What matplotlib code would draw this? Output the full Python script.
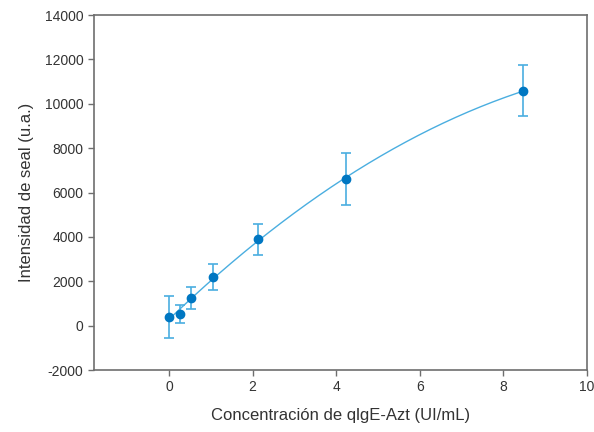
import numpy as np
import matplotlib.pyplot as plt

plt.rcParams['font.family'] = ['Liberation Sans', 'DejaVu Sans']
plt.rcParams['axes.unicode_minus'] = False

# concentración de qIgE-Azt (UI/mL) y señal media con su desviación
conc = [0.0, 0.265, 0.53, 1.06, 2.12, 4.24, 8.48]
signal = [400, 510, 1260, 2200, 3900, 6610, 10590]
sd = [950, 400, 490, 580, 700, 1160, 1140]

x_ticks = [0, 2, 4, 6, 8, 10]
y_ticks = [-2000, 0, 2000, 4000, 6000, 8000, 10000, 12000, 14000]

# ajuste cuadrático para la curva de calibración
coef = np.polyfit(conc, signal, 2)
xfit = np.linspace(min(conc), max(conc), 200)
yfit = np.polyval(coef, xfit)

fig = plt.figure(figsize=(5.94, 4.32), dpi=100)
ax = fig.add_axes([0.158, 0.1435, 0.83, 0.8215])

ax.plot(xfit, yfit, color='#4aaee0', lw=1.0, zorder=2)
ax.errorbar(conc, signal, yerr=sd, fmt='none', ecolor='#4aaee0',
            elinewidth=1.2, capsize=3.5, capthick=1.2, zorder=3)
ax.plot(conc, signal, 'o', color='#0077c2', ms=6, zorder=4)

ax.set_xlim(-1.8, 10)
ax.set_ylim(-2000, 14000)
ax.set_xticks(x_ticks)
ax.set_yticks(y_ticks)

for s in ax.spines.values():
    s.set_color('#6e6e6e')
    s.set_linewidth(1.2)
ax.tick_params(direction='out', length=4, width=1, color='#6e6e6e',
               labelsize=10, labelcolor='#333333', top=False, right=False)

ax.set_xlabel('Concentración de qlgE-Azt (UI/mL)', fontsize=12, color='#333333', labelpad=10)
ax.set_ylabel('Intensidad de seal (u.a.)', fontsize=12, color='#333333', labelpad=8)

fig.savefig('out.png', dpi=100)
